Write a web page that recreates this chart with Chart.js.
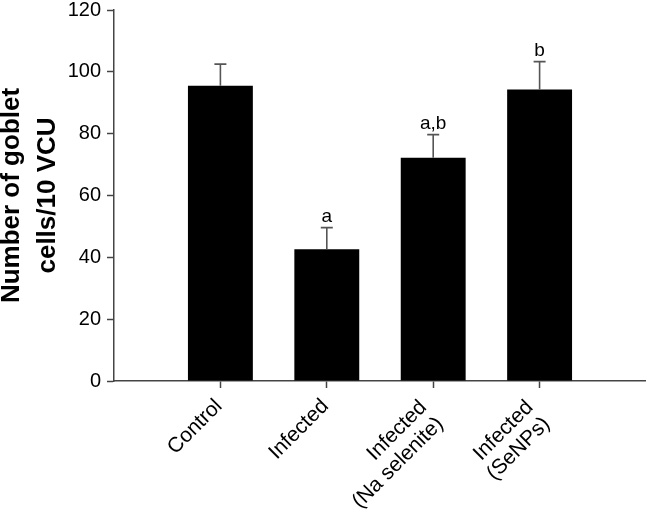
<!DOCTYPE html>
<html>
<head>
<meta charset="utf-8">
<script src="https://cdn.jsdelivr.net/npm/chart.js@4/dist/chart.umd.min.js"></script>
<style>
html,body{margin:0;padding:0;background:#fff;}
#wrap{position:relative;width:646px;height:513px;}
</style>
</head>
<body>
<div id="wrap"><canvas id="c" width="646" height="513"></canvas></div>
<script>
const categories = ['Control', 'Infected', ['Infected', '(Na selenite)'], ['Infected', '(SeNPs)']];
const meanValues = [95.5, 42.6, 72.2, 94.3];
const errorValues = [7.0, 7.0, 7.5, 9.0];
const letterLabels = ['', 'a', 'a,b', 'b'];
const yTicks = [0, 20, 40, 60, 80, 100, 120];

const FONT = '"Liberation Sans", Arial, Helvetica, sans-serif';
const AXIS = '#444';

// pad with empty categories on both sides so the bars sit at positions 1..4 of 0..5
const labels = [''].concat(categories, ['']);
const data = [null].concat(meanValues, [null]);

const errorPlugin = {
  id: 'errorBars',
  afterDatasetsDraw(chart) {
    const ctx = chart.ctx;
    const meta = chart.getDatasetMeta(0);
    const y = chart.scales.y;
    ctx.save();
    meanValues.forEach((v, i) => {
      const el = meta.data[i + 1];
      const x = el.x;
      const yTop = y.getPixelForValue(v);
      const yErr = y.getPixelForValue(v + errorValues[i]);
      ctx.strokeStyle = '#555';
      ctx.lineWidth = 1.6;
      ctx.beginPath();
      ctx.moveTo(x, yTop);
      ctx.lineTo(x, yErr);
      ctx.moveTo(x - 6, yErr);
      ctx.lineTo(x + 6, yErr);
      ctx.stroke();
      if (letterLabels[i]) {
        ctx.fillStyle = '#000';
        ctx.font = '19px ' + FONT;
        ctx.textAlign = 'center';
        ctx.textBaseline = 'alphabetic';
        ctx.fillText(letterLabels[i], x, yErr - 6);
      }
    });
    ctx.restore();
  }
};

// rotated category labels: lines right-aligned, block centred under the tick
const xLabelPlugin = {
  id: 'xLabels',
  afterDraw(chart) {
    const ctx = chart.ctx;
    const xs = chart.scales.x;
    const base = xs.top;
    const lh = 23.5;
    ctx.save();
    ctx.fillStyle = '#000';
    ctx.font = '21px ' + FONT;
    ctx.textAlign = 'right';
    ctx.textBaseline = 'middle';
    categories.forEach((cat, i) => {
      const lines = Array.isArray(cat) ? cat : [cat];
      const n = lines.length;
      const px = xs.getPixelForTick(i + 1) - 1.4;
      const py = base + 22 + (n - 1) * 9.5;
      ctx.save();
      ctx.translate(px, py);
      ctx.rotate(-Math.PI / 4);
      lines.forEach((t, k) => {
        ctx.fillText(t, 0, (k - (n - 1) / 2) * lh);
      });
      ctx.restore();
    });
    ctx.restore();
  }
};

new Chart(document.getElementById('c'), {
  type: 'bar',
  data: {
    labels: labels,
    datasets: [{
      data: data,
      backgroundColor: '#000',
      borderWidth: 0,
      categoryPercentage: 1.0,
      barPercentage: 0.61
    }]
  },
  options: {
    responsive: false,
    animation: false,
    devicePixelRatio: 1,
    layout: { padding: { top: 10, right: 0, left: 0, bottom: 0 } },
    plugins: { legend: { display: false }, tooltip: { enabled: false } },
    scales: {
      x: {
        offset: false,
        grid: {
          display: true,
          offset: false,
          drawOnChartArea: false,
          tickLength: 7,
          tickWidth: 1.5,
          tickColor: (c) => (c.index === 0 || c.index === labels.length - 1) ? 'rgba(0,0,0,0)' : AXIS
        },
        border: { display: true, color: AXIS, width: 1.5 },
        ticks: {
          display: false,
          autoSkip: false,
          maxRotation: 0,
          minRotation: 0
        },
        afterFit(s) { s.height = 132; s.paddingLeft = 0; s.paddingRight = 0; }
      },
      y: {
        min: 0,
        max: 120,
        afterBuildTicks(s) { s.ticks = yTicks.map(v => ({ value: v })); },
        grid: {
          display: true,
          drawOnChartArea: false,
          tickLength: 7,
          tickWidth: 1.5,
          tickColor: AXIS
        },
        border: { display: true, color: AXIS, width: 1.5 },
        ticks: {
          color: '#000',
          font: { family: FONT, size: 20 },
          padding: 6
        },
        title: {
          display: true,
          text: ['Number of goblet', 'cells/10 VCU'],
          color: '#000',
          font: { family: FONT, size: 26, weight: 'bold', lineHeight: 1.38 },
          padding: { top: -6, bottom: 0 }
        },
        afterFit(s) { s.width = 114; s.paddingTop = 0; s.paddingBottom = 0; }
      }
    }
  },
  plugins: [errorPlugin, xLabelPlugin]
});
</script>
</body>
</html>
